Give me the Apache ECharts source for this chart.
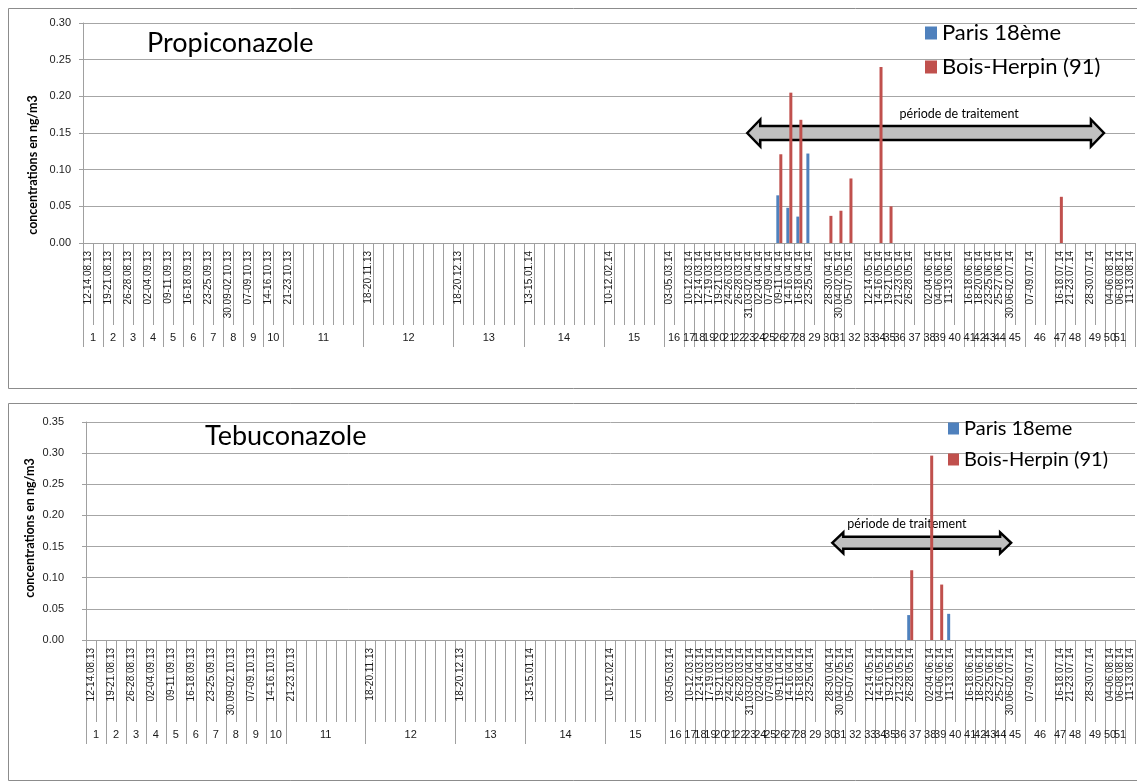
<!DOCTYPE html>
<html>
<head>
<meta charset="utf-8">
<script src="https://cdn.jsdelivr.net/npm/echarts@6/dist/echarts.min.js"></script>
<style>
  html, body { margin: 0; padding: 0; background: #ffffff; }
  #chart { width: 1137px; height: 782px; }
</style>
</head>
<body>
<div id="chart"></div>
<script>
// Sampling weeks (second axis level) and the sampling periods that fall in each week
const weekNumbers = Array.from({ length: 52 }, (_, i) => String(i + 1));
const weekPeriods = [
  ['12-14.08.13', ''], ['19-21.08.13', ''], ['26-28.08.13', ''], ['02-04.09.13', ''], ['09-11.09.13', ''],
  ['16-18.09.13', ''], ['23-25.09.13', ''], ['30.09-02.10.13', ''], ['07-09.10.13', ''], ['14-16.10.13', ''],
  ['21-23.10.13', '', '', '', '', '', '', ''],
  ['18-20.11.13', '', '', '', '', '', '', '', ''],
  ['18-20.12.13', '', '', '', '', '', ''],
  ['13-15.01.14', '', '', '', '', '', '', ''],
  ['10-12.02.14', '', '', '', '', ''],
  ['03-05.03.14', ''],
  ['10-12.03.14'], ['12-14.03.14'], ['17-19.03.14'], ['19-21.03.14'], ['24-26.03.14'], ['26-28.03.14'],
  ['31.03-02.04.14'], ['02-04.04.14'], ['07-09.04.14'], ['09-11.04.14'], ['14-16.04.14'], ['16-18.04.14'],
  ['23-25.04.14', ''], ['28-30.04.14'], ['30.04-02.05.14'], ['05-07.05.14', ''],
  ['12-14.05.14'], ['14-16.05.14'], ['19-21.05.14'], ['21-23.05.14'],
  ['26-28.05.14', ''], ['02-04.06.14'], ['04-06.06.14'], ['11-13.06.14', ''],
  ['16-18.06.14'], ['18-20.06.14'], ['23-25.06.14'], ['25-27.06.14'],
  ['30.06-02.07.14', ''], ['07-09.07.14', '', ''], ['16-18.07.14'], ['21-23.07.14', ''], ['28-30.07.14', ''],
  ['04-06.08.14'], ['06-08.08.14'], ['11-13.08.14']
];

// Propiconazole concentrations (ng/m3)
const propiParisDates = ['09-11.04.14', '14-16.04.14', '16-18.04.14', '23-25.04.14'];
const propiParisValues = [0.065, 0.048, 0.036, 0.122];
const propiBoisDates = ['09-11.04.14', '14-16.04.14', '16-18.04.14', '28-30.04.14', '30.04-02.05.14',
  '05-07.05.14', '14-16.05.14', '19-21.05.14', '16-18.07.14'];
const propiBoisValues = [0.121, 0.205, 0.168, 0.037, 0.044, 0.088, 0.240, 0.050, 0.063];

// Tebuconazole concentrations (ng/m3)
const tebuParisDates = ['26-28.05.14', '11-13.06.14'];
const tebuParisValues = [0.040, 0.042];
const tebuBoisDates = ['26-28.05.14', '02-04.06.14', '04-06.06.14'];
const tebuBoisValues = [0.112, 0.296, 0.089];

// Y axis ranges / steps
const propiAxis = { max: 0.30, step: 0.05 };
const tebuAxis = { max: 0.35, step: 0.05 };

// ---- derived structures ----
const periods = weekPeriods.flat();
const nCat = periods.length;
const weekBounds = [0];
weekPeriods.forEach(w => weekBounds.push(weekBounds[weekBounds.length - 1] + w.length));
const weekCenters = weekPeriods.map((w, i) => weekBounds[i] + w.length / 2);
const weekByCenter = new Map(weekCenters.map((c, i) => [c, weekNumbers[i]]));

function toSeries(dates, values) {
  const arr = new Array(nCat).fill(null);
  dates.forEach((d, i) => { arr[periods.indexOf(d)] = values[i]; });
  return arr;
}

const BLUE = '#4F81BD', RED = '#C0504D';
const GRIDC = '#a6a6a6', TICKC = '#a0a0a0';
const FONT = 'Lato, "Liberation Sans", sans-serif';
const LABELFONT = '"Liberation Sans", Arial, sans-serif';

const grids = [
  { left: 83, right: 2, top: 23, height: 220 },
  { left: 86, right: 2, top: 422, height: 218 }
];

function periodAxis(gi) {
  return {
    type: 'category', gridIndex: gi, data: periods, boundaryGap: true,
    axisLine: { show: true, lineStyle: { color: TICKC, width: 1 } },
    axisTick: { show: true, interval: 0, length: 82, lineStyle: { color: TICKC } },
    axisLabel: {
      interval: 0, rotate: 90, margin: 8, fontSize: 10, color: '#1a1a1a',
      fontFamily: LABELFONT
    },
    splitLine: { show: false }
  };
}
function weekAxis(gi) {
  return {
    type: 'value', gridIndex: gi, min: 0, max: nCat, position: 'bottom',
    axisLine: { show: false },
    splitLine: { show: false },
    axisTick: { show: true, customValues: weekBounds, length: 104, lineStyle: { color: TICKC } },
    axisLabel: {
      customValues: weekCenters, margin: 89, fontSize: 11, color: '#1a1a1a', fontFamily: LABELFONT,
      formatter: v => weekByCenter.get(v) || ''
    }
  };
}
function concAxis(gi, ax, margin) {
  return {
    type: 'value', gridIndex: gi, min: 0, max: ax.max, interval: ax.step,
    axisLine: { show: true, lineStyle: { color: TICKC } },
    axisTick: { show: true, length: 4, lineStyle: { color: TICKC } },
    axisLabel: { formatter: v => v.toFixed(2), fontSize: 11, color: '#222', margin, fontFamily: LABELFONT },
    splitLine: { show: true, lineStyle: { color: GRIDC, width: 1 } }
  };
}
function bars(name, color, xi, yi, data) {
  return {
    name, type: 'bar', xAxisIndex: xi, yAxisIndex: yi, data,
    barWidth: 3, barGap: '0%', itemStyle: { color }, z: 3
  };
}

const chart = echarts.init(document.getElementById('chart'), null, { renderer: 'canvas' });

chart.setOption({
  animation: false,
  backgroundColor: '#ffffff',
  title: [
    { text: 'Propiconazole', left: 147, top: 30, padding: 0,
      textStyle: { fontFamily: FONT, fontSize: 27, fontWeight: 'normal', color: '#000' } },
    { text: 'Tebuconazole', left: 205, top: 423, padding: 0,
      textStyle: { fontFamily: FONT, fontSize: 27, fontWeight: 'normal', color: '#000' } }
  ],
  legend: [
    { data: ['Paris 18ème', 'Bois-Herpin (91)'], orient: 'vertical', left: 925, top: 22, padding: 0,
      itemWidth: 12, itemHeight: 13, itemGap: 12, icon: 'rect',
      textStyle: { fontFamily: FONT, fontSize: 22, color: '#000', lineHeight: 22 } },
    { data: ['Paris 18eme', 'Bois-Herpin (91)'], orient: 'vertical', left: 948, top: 418, padding: 0,
      itemWidth: 11, itemHeight: 12, itemGap: 10, icon: 'rect',
      textStyle: { fontFamily: FONT, fontSize: 20, color: '#000', lineHeight: 21 } }
  ],
  grid: grids,
  xAxis: [periodAxis(0), periodAxis(1), weekAxis(0), weekAxis(1)],
  yAxis: [concAxis(0, propiAxis, 12), concAxis(1, tebuAxis, 22)],
  series: [
    bars('Paris 18ème', BLUE, 0, 0, toSeries(propiParisDates, propiParisValues)),
    bars('Bois-Herpin (91)', RED, 0, 0, toSeries(propiBoisDates, propiBoisValues)),
    bars('Paris 18eme', BLUE, 1, 1, toSeries(tebuParisDates, tebuParisValues)),
    bars('Bois-Herpin (91)', RED, 1, 1, toSeries(tebuBoisDates, tebuBoisValues))
  ]
});

// Double-headed "treatment period" arrow, placed in axis units
function arrowPoints(x1, x2, yc, hb, hh, hl) {
  return [[x1, yc], [x1 + hl, yc - hh], [x1 + hl, yc - hb], [x2 - hl, yc - hb], [x2 - hl, yc - hh],
          [x2, yc], [x2 - hl, yc + hh], [x2 - hl, yc + hb], [x1 + hl, yc + hb], [x1 + hl, yc + hh]];
}
function treatmentArrow(xAxisIndex, yAxisIndex, from, to, level, hb, hh, hl, textAt, textLevel) {
  const x1 = chart.convertToPixel({ xAxisIndex }, from);
  const x2 = chart.convertToPixel({ xAxisIndex }, to);
  const yc = chart.convertToPixel({ yAxisIndex }, level);
  return {
    shape: { type: 'polygon', z: 1, shape: { points: arrowPoints(x1, x2, yc, hb, hh, hl) },
      style: { fill: '#c0c0c0', stroke: '#000', lineWidth: 2.5, lineJoin: 'miter' } },
    text: { type: 'text', z: 1,
      x: chart.convertToPixel({ xAxisIndex }, textAt),
      y: chart.convertToPixel({ yAxisIndex }, textLevel),
      style: { text: 'période de traitement', fill: '#000', font: '12.5px ' + FONT, align: 'left', verticalAlign: 'middle' } }
  };
}
const a1 = treatmentArrow(2, 0, 66.3, 101.9, 0.15, 7, 13.5, 13, 81.5, 0.176);
const a2 = treatmentArrow(3, 1, 74.7, 92.6, 0.156, 6, 10.5, 11, 76.2, 0.186);

chart.setOption({
  graphic: [
    { type: 'rect', z: 0, shape: { x: 8.5, y: 8.5, width: 1140, height: 380 },
      style: { fill: 'none', stroke: '#8c8c8c', lineWidth: 1 } },
    { type: 'rect', z: 0, shape: { x: 8.5, y: 403.5, width: 1140, height: 377 },
      style: { fill: 'none', stroke: '#8c8c8c', lineWidth: 1 } },
    a1.shape, a1.text, a2.shape, a2.text,
    { type: 'text', x: 33, y: 165, rotation: Math.PI / 2,
      style: { text: 'concentrations en ng/m3', font: 'bold 12.5px ' + FONT, fill: '#000', align: 'center', verticalAlign: 'middle' } },
    { type: 'text', x: 30, y: 528, rotation: Math.PI / 2,
      style: { text: 'concentrations en ng/m3', font: 'bold 12.5px ' + FONT, fill: '#000', align: 'center', verticalAlign: 'middle' } }
  ]
});
</script>
</body>
</html>
